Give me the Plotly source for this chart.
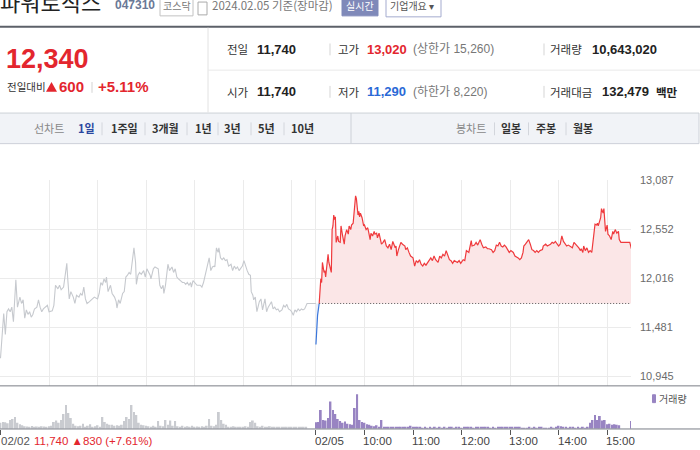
import plotly.graph_objects as go

W, H = 700, 450
NUM_FONT = "Liberation Sans, Noto Sans CJK KR, sans-serif"
KR_FONT = "Noto Sans CJK KR, Liberation Sans, sans-serif"

prev_close = 11740
session_len = 390  # 09:00 ~ 15:30, minutes

# 02/02 session : minutes after 09:00 / price
prev_minutes = [
    0, 2, 4, 6, 8, 10, 12, 14, 16, 19,
    21, 24, 26, 28, 30, 32, 34, 36, 38, 40,
    42, 45, 47, 49, 51, 53, 56, 58, 60, 64,
    66, 68, 71, 73, 75, 78, 80, 82, 83, 85,
    87, 90, 92, 94, 97, 99, 101, 103, 105, 107,
    110, 113, 116, 120, 122, 124, 126, 128, 130, 131,
    133, 136, 138, 141, 143, 144, 146, 148, 151, 153,
    155, 157, 159, 161, 163, 165, 167, 168, 170, 172,
    174, 177, 179, 181, 185, 186, 189, 191, 195, 197,
    199, 201, 202, 204, 207, 209, 212, 214, 216, 218,
    220, 223, 225, 227, 229, 231, 233, 235, 236, 238,
    240, 243, 247, 249, 251, 254, 256, 258, 260, 262,
    264, 265, 267, 269, 270, 272, 274, 276, 278, 280,
    282, 285, 287, 289, 291, 293, 295, 297, 299, 301,
    303, 305, 307, 309, 310, 312, 313, 315, 317, 318,
    320, 322, 324, 327, 329, 331, 333, 335, 337, 339,
    341, 343, 345, 348, 350, 352, 354, 356, 358, 360,
    362, 364, 366, 368, 370, 372, 374, 376, 379, 390,
]
prev_prices = [
    11140, 11430, 11630, 11400, 11650, 11680, 11650, 11700, 11540, 12000,
    11700, 11810, 11740, 11780, 11580, 11670, 11620, 11650, 11590, 11620,
    11680, 11700, 11780, 11700, 11650, 11680, 11700, 11720, 11650, 11660,
    11720, 11940, 11900, 11940, 11890, 11920, 12050, 12180, 12030, 11790,
    11870, 11810, 11740, 11830, 11810, 11850, 11830, 11920, 11790, 11740,
    11760, 11780, 11810, 11790, 11850, 11970, 11940, 12010, 11970, 12030,
    11870, 11940, 11850, 11810, 11760, 11690, 11780, 11740, 11850, 11870,
    12030, 12050, 12080, 12060, 12190, 12350, 12190, 11950, 12050, 12080,
    12060, 12100, 12030, 12120, 12050, 12010, 12120, 12140, 12120, 11940,
    11900, 11940, 11850, 11940, 12170, 12100, 12140, 12080, 12120, 12030,
    12010, 11990, 11970, 11970, 11950, 11970, 11940, 11970, 11920, 11990,
    11970, 11940, 11940, 11920, 11970, 12080, 12150, 12240, 12100, 12140,
    12150, 12140, 12350, 12300, 12350, 12240, 12220, 12240, 12210, 12220,
    12150, 12170, 12100, 12150, 12120, 12140, 12100, 12120, 12150, 12210,
    12150, 12100, 12060, 12050, 11870, 11830, 11780, 11810, 11650, 11680,
    11760, 11790, 11670, 11790, 11650, 11700, 11740, 11760, 11680, 11700,
    11670, 11680, 11650, 11670, 11720, 11700, 11730, 11680, 11670, 11650,
    11610, 11670, 11650, 11680, 11660, 11680, 11670, 11680, 11740, 11740,
]

# 02/05 session
day_minutes = [
    0, 1, 2, 4, 5, 6, 7, 8, 10, 11,
    12, 14, 15, 16, 18, 19, 20, 21, 22, 23,
    24, 25, 27, 28, 30, 31, 33, 35, 36, 38,
    40, 41, 43, 44, 46, 48, 49, 50, 52, 53,
    54, 55, 57, 59, 60, 62, 64, 65, 67, 68,
    70, 72, 73, 75, 76, 78, 80, 81, 83, 85,
    87, 89, 91, 93, 95, 98, 99, 100, 102, 105,
    107, 110, 111, 113, 115, 117, 120, 122, 124, 126,
    128, 130, 132, 134, 136, 138, 140, 142, 144, 146,
    148, 151, 153, 155, 157, 159, 161, 163, 165, 167,
    169, 171, 173, 175, 177, 179, 182, 184, 186, 189,
    192, 193, 196, 198, 200, 203, 205, 207, 210, 212,
    214, 217, 219, 221, 223, 225, 227, 229, 231, 233,
    235, 237, 239, 241, 244, 246, 248, 250, 252, 254,
    256, 257, 259, 261, 263, 265, 267, 269, 271, 273,
    275, 277, 280, 281, 284, 286, 288, 290, 292, 294,
    296, 298, 300, 302, 304, 306, 308, 310, 312, 315,
    317, 319, 321, 323, 325, 327, 328, 330, 331, 333,
    335, 337, 339, 341, 343, 345, 347, 348, 349, 351,
    352, 353, 355, 356, 357, 358, 360, 361, 363, 365,
    367, 368, 370, 372, 374, 375, 377, 381, 385, 388,
    390,
]
day_prices = [
    11290, 11500, 11610, 11740, 11970, 12010, 11970, 12190, 12080, 12100,
    12030, 12190, 12280, 12190, 12100, 12080, 12550, 12590, 12710, 12660,
    12690, 12410, 12480, 12420, 12410, 12590, 12480, 12390, 12480, 12550,
    12500, 12590, 12550, 12600, 12620, 12860, 12920, 12890, 12710, 12750,
    12690, 12730, 12680, 12590, 12600, 12550, 12570, 12530, 12440, 12510,
    12480, 12530, 12500, 12510, 12460, 12510, 12420, 12390, 12410, 12440,
    12370, 12350, 12390, 12330, 12420, 12350, 12370, 12260, 12330, 12410,
    12390, 12370, 12330, 12350, 12300, 12260, 12240, 12150, 12210, 12190,
    12220, 12170, 12150, 12180, 12160, 12190, 12210, 12240, 12210, 12260,
    12220, 12190, 12260, 12240, 12280, 12260, 12320, 12280, 12220, 12210,
    12180, 12210, 12200, 12190, 12210, 12180, 12220, 12210, 12320, 12300,
    12430, 12370, 12380, 12410, 12380, 12440, 12390, 12350, 12360, 12340,
    12340, 12330, 12300, 12320, 12380, 12370, 12410, 12370, 12360, 12380,
    12360, 12320, 12300, 12320, 12300, 12260, 12250, 12240, 12220, 12240,
    12300, 12370, 12390, 12410, 12440, 12390, 12330, 12320, 12300, 12320,
    12300, 12320, 12330, 12370, 12390, 12370, 12380, 12390, 12410, 12400,
    12420, 12390, 12370, 12390, 12480, 12420, 12390, 12370, 12380, 12360,
    12350, 12410, 12390, 12380, 12350, 12320, 12340, 12300, 12370, 12320,
    12350, 12300, 12320, 12300, 12480, 12610, 12600, 12620, 12590, 12640,
    12680, 12780, 12730, 12780, 12590, 12530, 12600, 12500, 12480, 12440,
    12530, 12500, 12550, 12510, 12530, 12440, 12410, 12410, 12410, 12410,
    12340,
]
assert len(prev_minutes) == len(prev_prices)
assert len(day_minutes) == len(day_prices)

# volume (thousand shares), one bar every 3 minutes
vol_step = 3
prev_volume_k = [
    60, 70, 65, 55, 90, 100, 120, 60, 45, 35,
    25, 22, 20, 27, 18, 24, 20, 25, 22, 18,
    25, 30, 70, 85, 60, 90, 150, 240, 160, 110,
    50, 30, 25, 30, 50, 20, 30, 45, 20, 25,
    35, 20, 120, 70, 50, 40, 40, 30, 35, 30,
    40, 80, 120, 100, 240, 170, 140, 60, 40, 35,
    30, 25, 20, 30, 20, 80, 30, 25, 90, 40,
    85, 30, 80, 25, 20, 30, 15, 25, 20, 30,
    18, 22, 15, 25, 20, 30, 100, 30, 25, 40,
    170, 90, 50, 40, 20, 15, 25, 20, 15, 20,
    18, 25, 15, 70, 85, 60, 25, 20, 30, 15,
    20, 25, 15, 20, 18, 15, 20, 12, 18, 15,
    20, 12, 15, 18, 12, 15, 10, 0, 0, 0,
]
day_volume_k = [
    65, 70, 190, 90, 85, 110, 277, 190, 150, 100,
    80, 60, 75, 50, 45, 40, 210, 350, 90, 70,
    60, 45, 40, 30, 25, 35, 20, 90, 20, 15,
    12, 18, 15, 12, 10, 15, 12, 10, 12, 30,
    15, 10, 10, 12, 8, 10, 8, 12, 8, 10,
    8, 10, 8, 12, 8, 10, 12, 8, 10, 10,
    8, 12, 10, 20, 10, 8, 12, 10, 12, 14,
    10, 12, 8, 10, 8, 12, 14, 10, 12, 14,
    15, 12, 18, 12, 10, 8, 6, 8, 10, 7,
    12, 8, 20, 10, 8, 6, 8, 10, 8, 12,
    30, 25, 12, 10, 8, 10, 12, 8, 10, 8,
    10, 8, 12, 60, 90, 140, 90, 130, 85, 90,
    45, 50, 40, 45, 40, 35, 0, 0, 0, 0,
    80,
]

price_ticks = [10945, 11481, 12016, 12552, 13087]
hour_offsets = [0, 60, 120, 180, 240, 300, 360]
hour_labels = ["02/05", "10:00", "11:00", "12:00", "13:00", "14:00", "15:00"]

RED = "#ef3a3d"
TXT_RED = "#e3262e"
BLUE = "#3a76db"
GRAY_LINE = "#c6c9ce"
PURPLE = "#9884c2"


def px_x(x):
    return x / W


def px_y(y):
    return 1 - y / H


def text(fig, x, y, s, size=12, color="#333", family=KR_FONT, anchor="left"):
    fig.add_annotation(x=px_x(x), y=px_y(y), xref="paper", yref="paper", text=s,
                       showarrow=False, xanchor=anchor, yanchor="middle", borderpad=0,
                       font=dict(size=size, color=color, family=family))


def seg(fig, x0, y0, x1, y1, color, width=1):
    fig.add_shape(type="line", xref="paper", yref="paper",
                  x0=px_x(x0), y0=px_y(y0), x1=px_x(x1), y1=px_y(y1),
                  line=dict(color=color, width=width))


def box(fig, x0, y0, x1, y1, line="#ccc", fill="rgba(0,0,0,0)"):
    fig.add_shape(type="rect", xref="paper", yref="paper",
                  x0=px_x(x0), y0=px_y(y0), x1=px_x(x1), y1=px_y(y1),
                  line=dict(color=line, width=1), fillcolor=fill, layer="below")


def triangle(fig, x0, y_bottom, w, h, color):
    # small filled "up" marker used next to the change value
    path = (f"M {px_x(x0)} {px_y(y_bottom)} L {px_x(x0 + w)} {px_y(y_bottom)} "
            f"L {px_x(x0 + w / 2)} {px_y(y_bottom - h)} Z")
    fig.add_shape(type="path", xref="paper", yref="paper", path=path,
                  fillcolor=color, line=dict(width=0))


def build_chart():
    fig = go.Figure()

    # previous session (gray)
    fig.add_trace(go.Scatter(x=prev_minutes, y=prev_prices, mode="lines",
                             line=dict(color=GRAY_LINE, width=1.1)))

    # today: split into below / above previous close
    cross = next(i for i, p in enumerate(day_prices) if p >= prev_close)
    day_x = [session_len + m for m in day_minutes]
    blue_x, blue_y = day_x[:cross + 1], day_prices[:cross + 1]
    red_x, red_y = day_x[cross:], day_prices[cross:]

    fig.add_trace(go.Scatter(x=blue_x, y=[prev_close] * len(blue_x), mode="lines",
                             line=dict(width=0), hoverinfo="skip"))
    fig.add_trace(go.Scatter(x=blue_x, y=blue_y, mode="lines", fill="tonexty",
                             fillcolor="#e6eefb", line=dict(color=BLUE, width=1.2)))
    fig.add_trace(go.Scatter(x=red_x, y=[prev_close] * len(red_x), mode="lines",
                             line=dict(width=0), hoverinfo="skip"))
    fig.add_trace(go.Scatter(x=red_x, y=red_y, mode="lines", fill="tonexty",
                             fillcolor="#fbe6e7", line=dict(color=RED, width=1.2)))
    # previous close dotted line
    fig.add_trace(go.Scatter(x=[red_x[0], red_x[-1]], y=[prev_close, prev_close],
                             mode="lines", line=dict(color="#555", width=1, dash="1px,2px")))

    # volume
    prev_vx = [i * vol_step for i in range(len(prev_volume_k))]
    day_vx = [session_len + i * vol_step for i in range(len(day_volume_k))]
    fig.add_trace(go.Bar(x=prev_vx, y=prev_volume_k, width=2.2, marker_color="#c9cbd0",
                         marker_line_width=0, xaxis="x2", yaxis="y2"))
    fig.add_trace(go.Bar(x=day_vx, y=day_volume_k, width=2.2, marker_color=PURPLE,
                         marker_line_width=0, xaxis="x2", yaxis="y2"))

    grid_x = list(range(0, session_len - 29, 60)) + [session_len + h for h in hour_offsets]
    plot_right = 631 / W

    fig.update_layout(
        width=W, height=H,
        margin=dict(l=0, r=0, t=0, b=0, pad=0),
        paper_bgcolor="white", plot_bgcolor="white",
        showlegend=False, hovermode=False,
        xaxis=dict(domain=[0, plot_right], range=[-0.6, 779.5], tickvals=grid_x,
                   showticklabels=False, ticks="", showgrid=True, gridcolor="#ebebeb",
                   gridwidth=1, zeroline=False, showline=False, fixedrange=True),
        yaxis=dict(domain=[px_y(385), px_y(176.5)], range=[10837, 13092], side="right",
                   tickvals=price_ticks, ticktext=[f"{v:,}" for v in price_ticks],
                   tickfont=dict(size=11, color="#6b6b6b", family=NUM_FONT),
                   ticks="", ticklabelstandoff=8, showgrid=True, gridcolor="#ebebeb",
                   zeroline=False, showline=False, fixedrange=True),
        xaxis2=dict(domain=[0, plot_right], anchor="y2", matches="x",
                    tickvals=[0] + [session_len + h for h in hour_offsets],
                    showticklabels=False, ticks="outside", ticklen=5, tickwidth=1,
                    tickcolor="#555", showgrid=False, zeroline=False, showline=False),
        yaxis2=dict(domain=[px_y(428.5), px_y(386)], range=[0, 425], visible=False,
                    showgrid=False, fixedrange=True),
    )

    # ---------- header ----------
    text(fig, -1, -5, "파워로직스", size=22, color="#222")
    text(fig, 114, -1, "<b>047310</b>", size=12, color="#6a7896", family=NUM_FONT)
    box(fig, 160, -8, 193, 10, line="#c2c2c2")
    text(fig, 162, -1, "코스닥", size=10, color="#777")
    box(fig, 198, -4, 207, 9, line="#aaa")
    text(fig, 211, -1, "2024.02.05 기준(장마감)", size=11.5, color="#777")
    box(fig, 342, -8, 378, 10, line="#7f89b9", fill="#7f89b9")
    text(fig, 345, -1, "실시간", size=10, color="white")
    box(fig, 386, -8, 441, 11, line="#a4abcf", fill="white")
    text(fig, 389, -1, "기업개요 ▾", size=10, color="#555")
    seg(fig, 0, 21, W, 21, "#5c6169", 2)

    # ---------- price summary ----------
    text(fig, 5, 54, "<b>12,340</b>", size=27, color=TXT_RED, family=NUM_FONT)
    text(fig, 6, 82, "전일대비", size=10.5, color="#333")
    triangle(fig, 46, 87, 11, 10, TXT_RED)
    text(fig, 58, 82, "<b>600</b>", size=15, color=TXT_RED, family=NUM_FONT)
    seg(fig, 92, 77, 92, 88, "#d3d3d3")
    text(fig, 97, 82, "<b>+5.11%</b>", size=15, color=TXT_RED, family=NUM_FONT)

    seg(fig, 208, 22, 208, 108, "#e2e2e2")
    seg(fig, 208, 65, W, 65, "#e9e9e9")
    for ry in (44, 87):
        seg(fig, 330, ry - 6, 330, ry + 6, "#d5d5d5")
        seg(fig, 544, ry - 6, 544, ry + 6, "#d5d5d5")
    text(fig, 226, 44, "전일", size=11.5)
    text(fig, 256, 44, "<b>11,740</b>", size=13, color="#222", family=NUM_FONT)
    text(fig, 337, 44, "고가", size=11.5)
    text(fig, 366, 44, "<b>13,020</b>", size=13, color=TXT_RED, family=NUM_FONT)
    text(fig, 412, 44, "(상한가 15,260)", size=12, color="#777", family=NUM_FONT)
    text(fig, 549, 44, "거래량", size=11.5)
    text(fig, 591, 44, "<b>10,643,020</b>", size=13, color="#222", family=NUM_FONT)
    text(fig, 226, 87, "시가", size=11.5)
    text(fig, 256, 87, "<b>11,740</b>", size=13, color="#222", family=NUM_FONT)
    text(fig, 337, 87, "저가", size=11.5)
    text(fig, 366, 87, "<b>11,290</b>", size=13, color="#2a69d6", family=NUM_FONT)
    text(fig, 412, 87, "(하한가 8,220)", size=12, color="#777", family=NUM_FONT)
    text(fig, 549, 87, "거래대금", size=11.5)
    text(fig, 601, 87, "<b>132,479</b>", size=13, color="#222", family=NUM_FONT)
    text(fig, 655, 87, "<b>백만</b>", size=11.5, color="#222")

    # ---------- period tabs ----------
    box(fig, -1, 108.5, 699, 139.5, line="#cdd1d8", fill="#f1f3f7")
    seg(fig, 351, 108.5, 351, 139.5, "#cdd1d8")
    text(fig, 33, 124, "선차트", size=11, color="#888")
    text(fig, 77, 124, "<b>1일</b>", size=11, color="#2a47a0")
    tabs = [("1주일", 110), ("3개월", 151), ("1년", 194), ("3년", 223), ("5년", 257), ("10년", 290)]
    for label, tx in tabs:
        text(fig, tx, 124, f"<b>{label}</b>", size=11, color="#333")
    for sx in (102, 145, 187, 218, 251, 284, 494.5, 528.5, 566):
        seg(fig, sx, 118, sx, 131, "#d3d6dc")
    text(fig, 455, 124, "봉차트", size=11, color="#888")
    for label, tx in (("일봉", 500), ("주봉", 535), ("월봉", 572)):
        text(fig, tx, 124, f"<b>{label}</b>", size=11, color="#333")

    # ---------- volume panel frame ----------
    seg(fig, 0, 385, W, 385, "#7a7e86")
    seg(fig, 0, 428.7, W, 428.7, "#7a7e86")
    box(fig, 652.5, 394, 655.5, 402, line=PURPLE, fill=PURPLE)
    text(fig, 658, 398, "거래량", size=10, color="#555")

    # time labels
    fig.add_annotation(x=0, y=px_y(441), xref="x", yref="paper", text="02/02",
                       showarrow=False, xanchor="left", yanchor="middle", xshift=-1,
                       font=dict(size=11.5, color="#555", family=NUM_FONT))
    text(fig, 33, 441, "11,740 ▲830 (+7.61%)", size=11.5, color=TXT_RED, family=NUM_FONT)
    for off, lab in zip(hour_offsets, hour_labels):
        fig.add_annotation(x=session_len + off, y=px_y(441), xref="x", yref="paper",
                           text=lab, showarrow=False, xanchor="left", yanchor="middle",
                           xshift=-3, font=dict(size=11.5, color="#444", family=NUM_FONT))
    return fig


fig = build_chart()
# the page is shot at exactly the figure size, so drop the default body margin
fig.write_html("out.html", config={"displayModeBar": False},
               post_script="document.body.style.margin='0';document.body.style.overflow='hidden';")
